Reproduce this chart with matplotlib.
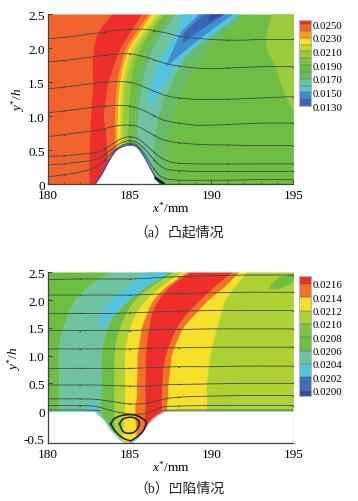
import numpy as np
import matplotlib
matplotlib.use('Agg')
import matplotlib.pyplot as plt

plt.rcParams['font.family'] = ['Liberation Serif']
plt.rcParams['mathtext.fontset'] = 'custom'
plt.rcParams['mathtext.rm'] = 'Liberation Serif'
plt.rcParams['mathtext.it'] = 'Liberation Serif:italic'

RED = '#ee2e2b'
ORANGE_RED = '#f1632d'
ORANGE = '#f79a28'
YELLOW = '#f6e02a'
YLIME = '#c5d92d'
LIME = '#9acb3c'
LGREEN = '#7dc242'
GREEN = '#6ebe44'
MGREEN = '#68bc68'
TEAL = '#70c3a0'
LBLUE = '#55c5df'
BLUE = '#3f8fd0'
BLUE2 = '#3a66b5'
DBLUE = '#2f4da0'

# panel a: band boundaries x(y)
ya = [0, 0.25, 0.5, 0.75, 1, 1.25, 1.5, 1.75, 2, 2.25, 2.5]
a1 = [182.54, 182.54, 182.54, 182.58, 182.63, 182.69, 182.75, 182.73, 182.81, 183.11, 183.91]
a2 = [182.99, 183.6, 183.64, 183.56, 183.44, 183.54, 183.72, 184.05, 184.46, 185.09, 185.74]
a3 = [183.2, 184.01, 184.11, 184.11, 184.11, 184.15, 184.25, 184.46, 184.78, 185.43, 186.15]
a4 = [183.4, 184.11, 184.25, 184.25, 184.27, 184.31, 184.42, 184.62, 184.97, 185.64, 186.35]
a5 = [183.6, 184.21, 184.46, 184.42, 184.42, 184.46, 184.56, 184.78, 185.13, 185.84, 186.62]
a6 = [183.8, 184.31, 184.66, 184.56, 184.56, 184.62, 184.74, 184.99, 185.37, 186.05, 186.82]
a7 = [184.0, 184.52, 184.88, 184.86, 184.93, 184.97, 185.07, 185.23, 185.64, 186.29, 187.06]
a8 = [186.05, 185.64, 185.33, 185.29, 185.33, 185.43, 185.54, 185.74, 186.05, 186.76, 187.47]
a9 = [186.25, 185.84, 185.54, 185.48, 185.54, 185.64, 185.8, 186.05, 186.45, 187.06, 187.78]
a10 = [186.49, 186.45, 186.45, 186.55, 186.76, 187.06, 187.57, 188.07, 188.78, 190.12, 191.34]
a11 = [187.27, 187.27, 187.27, 187.37, 187.67, 187.98, 188.49, 189.1, 189.91, 190.93, 192.05]
a_bounds = [180, a1, a2, a3, a4, a5, a6, a7, a8, a9, a10, a11, 195]
a_colors = [ORANGE_RED, RED, ORANGE_RED, ORANGE, YELLOW, YLIME, LIME, GREEN, MGREEN, TEAL, MGREEN, GREEN]

a_lime_y = [1.1, 1.25, 1.5, 1.75, 2, 2.25, 2.5]
a_lime_x = [195, 194.6, 194.19, 193.88, 193.37, 193.37, 193.68]
a_b1_y = [1.15, 1.25, 1.5, 1.75, 2, 2.25, 2.5]
a_b1_l = [186.19, 186.15, 186.35, 186.66, 187.27, 187.88, 188.08]
a_b1_r = [186.19, 186.55, 187.16, 187.88, 188.89, 190.32, 191.64]
a_b2_y = [1.75, 2, 2.25, 2.5]
a_b2_l = [187.2, 187.67, 188.18, 189.2]
a_b2_r = [187.27, 188.49, 189.81, 191.24]
a_b3_y = [2.09, 2.25, 2.5]
a_b3_l = [188.24, 188.39, 189.51]
a_b3_r = [188.28, 189.1, 190.73]
a_b4_y = [2.41, 2.5]
a_b4_l = [189.81, 189.91]
a_b4_r = [189.81, 190.62]

bump_x = [182.89, 183.3, 183.7, 184.11, 184.52, 185, 185.44, 185.84, 186.25, 186.66, 186.92]
bump_y = [0, 0.15, 0.33, 0.48, 0.55, 0.58, 0.55, 0.43, 0.25, 0.07, 0]

xs_a = [180, 181, 182, 183, 183.5, 184, 184.5, 185, 185.5, 186, 186.5, 187, 187.5, 188, 189, 190, 191, 192, 193, 195]
lines_a = [
    [.11, .14, .18, .26, .36, .48, .57, .60, .57, .42, .22, .10, .07, .06, .06, .06, .06, .065, .07, .07],
    [.28, .30, .33, .37, .44, .53, .61, .64, .61, .50, .36, .25, .21, .20, .19, .19, .19, .19, .19, .19],
    [.41, .42, .44, .47, .52, .60, .67, .70, .67, .58, .47, .38, .33, .31, .30, .30, .30, .30, .30, .30],
    [.70, .73, .76, .79, .82, .85, .87, .87, .85, .79, .72, .66, .63, .61, .59, .58, .58, .57, .57, .57],
    [1.05, 1.08, 1.11, 1.14, 1.15, 1.16, 1.16, 1.15, 1.12, 1.07, 1.01, .95, .92, .90, .87, .87, .88, .89, .90, .90],
    [1.40, 1.43, 1.46, 1.49, 1.50, 1.51, 1.51, 1.50, 1.47, 1.42, 1.37, 1.32, 1.29, 1.27, 1.25, 1.25, 1.25, 1.26, 1.27, 1.29],
    [1.80, 1.82, 1.85, 1.88, 1.90, 1.91, 1.92, 1.92, 1.90, 1.87, 1.83, 1.79, 1.76, 1.74, 1.71, 1.70, 1.71, 1.72, 1.73, 1.73],
    [2.14, 2.16, 2.19, 2.22, 2.24, 2.26, 2.27, 2.28, 2.28, 2.28, 2.26, 2.24, 2.21, 2.18, 2.15, 2.13, 2.12, 2.12, 2.13, 2.13],
]
sep_x = [186.6, 186.85, 187.08]
sep_y = [0.09, 0.05, 0.01]

# panel b: band boundaries x(y)
yb = [-0.6, 0, 0.25, 0.5, 0.75, 1, 1.25, 1.5, 1.75, 2, 2.25, 2.5]
b1 = [180.69, 180.69, 180.69, 180.69, 180.69, 180.71, 180.75, 180.96, 181.26, 181.67, 182.48, 183.81]
b2 = [183.5, 183.3, 183.3, 183.3, 183.3, 183.3, 183.4, 183.7, 184.01, 184.72, 185.64, 187.27]
b3 = [184.11, 184.07, 184.07, 184.07, 184.07, 184.07, 184.17, 184.42, 184.78, 185.33, 186.35, 187.67]
b4 = [184.52, 184.72, 184.72, 184.72, 184.72, 184.72, 184.82, 185.03, 185.39, 186.0, 186.96, 188.18]
b5 = [185.48, 185.33, 185.43, 185.43, 185.48, 185.48, 185.6, 185.74, 186.05, 186.45, 187.27, 188.49]
b6 = [185.74, 185.94, 185.94, 185.94, 185.98, 185.98, 186.05, 186.19, 186.35, 186.76, 187.47, 188.69]
b7 = [186.96, 186.96, 186.96, 187.0, 187.06, 187.2, 187.51, 187.88, 188.49, 189.3, 190.22, 191.24]
b8 = [187.27, 187.27, 187.33, 187.37, 187.47, 187.57, 187.88, 188.28, 189.0, 189.81, 190.83, 191.64]
b9 = [189.71, 189.71, 189.71, 189.71, 189.81, 189.91, 190.12, 190.32, 190.58, 190.83, 191.44, 192.15]
b_bounds = [180, b1, b2, b3, b4, b5, b6, b7, b8, b9, 195]
B_LIME = '#aed136'
B_ORANGE = '#f37325'
b_colors = [GREEN, TEAL, GREEN, B_LIME, YELLOW, B_ORANGE, RED, B_ORANGE, YELLOW, B_LIME]

b_blob_y = [1.48, 1.75, 2, 2.25, 2.5]
b_blob_l = [183.15, 183.26, 183.81, 184.93, 186.05]
b_blob_r = [183.2, 184.11, 184.93, 186.05, 187.37]
b_tip_y = [0, 0.1, 0.25]
b_tip_l = [182.54, 182.58, 182.69]
b_tip_r = [183.09, 182.89, 182.71]
b_green_y = [2.21, 2.3, 2.4, 2.47]
b_green_l = [193.54, 193.68, 194.09, 194.7]
b_green_r = [193.98, 194.8, 195, 195]

cav_x = [182.85, 183.4, 183.91, 184.42, 184.99, 185.54, 186.05, 186.55, 187.16]
cav_y = [0, -0.14, -0.35, -0.51, -0.58, -0.47, -0.26, -0.11, 0]

xs_b = [180, 182, 183, 184, 185, 186, 187, 188, 190, 192, 195]
lines_b = [
    [2.37, 2.38, 2.38, 2.38, 2.38, 2.39, 2.41, 2.42, 2.44, 2.45, 2.45],
    [2.09, 2.09, 2.09, 2.09, 2.09, 2.10, 2.11, 2.12, 2.13, 2.14, 2.14],
    [1.76, 1.76, 1.76, 1.76, 1.77, 1.78, 1.79, 1.80, 1.81, 1.81, 1.81],
    [1.45, 1.45, 1.45, 1.45, 1.45, 1.46, 1.47, 1.47, 1.48, 1.48, 1.48],
    [1.12, 1.12, 1.12, 1.12, 1.12, 1.13, 1.14, 1.14, 1.15, 1.15, 1.15],
    [.77, .77, .77, .77, .77, .78, .79, .80, .80, .81, .81],
    [.47, .47, .47, .46, .45, .45, .47, .48, .49, .50, .50],
    [.22, .22, .21, .17, .13, .14, .21, .25, .27, .28, .28],
    [.10, .10, .08, .0, -.05, -.04, .07, .09, .10, .10, .10],
]
near_x = [187, 188, 190, 192, 195]
near_y = [.01, .02, .02, .02, .02]
near2_x = [180, 182, 183.2]
near2_y = [.02, .02, .01]
loop1_x = [183.85, 184.1, 184.71, 185.43, 185.98, 186.0, 185.74, 185.23, 184.99, 184.52, 184.1, 183.85]
loop1_y = [-0.23, -0.13, -0.07, -0.08, -0.18, -0.26, -0.39, -0.51, -0.53, -0.47, -0.35, -0.23]
loop2_x = [184.38, 184.62, 185.13, 185.54, 185.58, 185.33, 184.99, 184.62, 184.38]
loop2_y = [-0.23, -0.14, -0.11, -0.17, -0.26, -0.37, -0.40, -0.37, -0.23]

# colour bars
cb_a_edges = [.01297, .0130, .0140, .0150, .0160, .0170, .0180, .0190, .0200, .0210, .0220, .0230, .0240, .0250, .02565]
cb_a_colors = [DBLUE, BLUE2, BLUE, LBLUE, TEAL, MGREEN, GREEN, LGREEN, LIME, YLIME, YELLOW, ORANGE, ORANGE_RED, RED]
cb_a_ticks = [.0130, .0150, .0170, .0190, .0210, .0230, .0250]
cb_b_edges = [.019915, .0200, .0202, .0204, .0206, .0208, .0210, .0212, .0214, .0216, .021715]
cb_b_colors = [DBLUE, '#3f6fbb', LBLUE, TEAL, GREEN, LGREEN, B_LIME, YELLOW, B_ORANGE, RED]
cb_b_ticks = [.0200, .0202, .0204, .0206, .0208, .0210, .0212, .0214, .0216]

W, H = 358, 502
fig = plt.figure(figsize=(W / 100, H / 100), dpi=100)


def box(l, t, r, b):
    return [l / W, 1 - b / H, (r - l) / W, (b - t) / H]


# rounds off the corners of a read polyline when drawing it
def smooth(*arrs, n=8):
    out = []
    for a in arrs:
        a = np.asarray(a, dtype=float)
        p = np.concatenate([[2 * a[0] - a[1]], a, [2 * a[-1] - a[-2]]])
        t = np.linspace(0, 1, n, endpoint=False)[:, None]
        p0, p1, p2, p3 = p[:-3], p[1:-2], p[2:-1], p[3:]
        seg = 0.5 * (2 * p1 + (p2 - p0) * t + (2 * p0 - 5 * p1 + 4 * p2 - p3) * t ** 2
                     + (3 * p1 - p0 - 3 * p2 + p3) * t ** 3)
        out.append(np.append(seg.T.ravel(), a[-1]))
    return out


def fill_x(ax, y, left, right, color):
    sy, sl, sr = smooth(y, left, right)
    ax.fill_betweenx(sy, sl, sr, color=color, lw=0.3)


def draw_bands(ax, y, bounds, colors):
    for i, c in enumerate(colors):
        left = bounds[i] if isinstance(bounds[i], list) else [bounds[i]] * len(y)
        right = bounds[i + 1] if isinstance(bounds[i + 1], list) else [bounds[i + 1]] * len(y)
        fill_x(ax, y, left, right, c)


def draw_lines(ax, xs, lines):
    for line in lines:
        sx, sy = smooth(xs, line)
        ax.plot(sx, sy, color='#3f4c45', lw=0.6, zorder=4)
        ax.plot(xs[1::3], line[1::3], ls='none', marker='>', ms=1.3, mew=0, color='#2c3430', zorder=4)


def style(ax, yticks, ylabels, ylim):
    ax.set_xlim(180, 195)
    ax.set_ylim(*ylim)
    ax.set_xticks([180, 185, 190, 195])
    ax.set_xticks(range(180, 196), minor=True)
    ax.set_yticks(yticks)
    ax.set_yticklabels(ylabels)
    ax.tick_params(axis='both', which='major', direction='in', length=3, width=0.6, labelsize=9.5, pad=2, color='#333333')
    ax.tick_params(axis='x', which='major', pad=3.5)
    ax.tick_params(axis='x', which='minor', direction='in', length=1.5, width=0.5, color='#333333')
    for s in ['top', 'right']:
        ax.spines[s].set_visible(False)
    for s in ['left', 'bottom']:
        ax.spines[s].set_linewidth(0.9)
        ax.spines[s].set_color('#444444')
        ax.spines[s].set_zorder(6)
    ax.set_xlabel(r'$x^{*}$/mm', fontsize=9.5, labelpad=-1)
    ax.set_ylabel(r'$y^{*}/h$', fontsize=9.5, labelpad=1)


def colorbar(rect, edges, colors, ticks):
    cax = fig.add_axes(rect)
    cax.barh(edges[:-1], 1, height=np.diff(edges), align='edge', color=colors, edgecolor='none')
    cax.hlines(edges[1:-1], 0, 1, color='#555555', lw=0.35)
    cax.set_xlim(0, 1)
    cax.set_ylim(edges[0], edges[-1])
    cax.set_xticks([])
    cax.yaxis.tick_right()
    cax.set_yticks(ticks)
    cax.set_yticklabels(['%.4f' % t for t in ticks])
    cax.tick_params(axis='y', length=0, labelsize=7.8, pad=1.5)
    for s in cax.spines.values():
        s.set_color('#b5b5b5')
        s.set_linewidth(0.8)


# (a)
ax1 = fig.add_axes(box(47.6, 15.3, 293.3, 185.3))
draw_bands(ax1, ya, a_bounds, a_colors)
fill_x(ax1, a_lime_y, a_lime_x, [195] * len(a_lime_y), LIME)
fill_x(ax1, a_b1_y, a_b1_l, a_b1_r, LBLUE)
fill_x(ax1, a_b2_y, a_b2_l, a_b2_r, BLUE)
fill_x(ax1, a_b3_y, a_b3_l, a_b3_r, BLUE2)
fill_x(ax1, a_b4_y, a_b4_l, a_b4_r, DBLUE)
wx, wy = smooth(bump_x, bump_y)
ax1.fill_between(wx, wy, -0.1, color='white', lw=0, zorder=3)
ax1.plot(wx, wy, color='#3b4ba3', lw=1.0, zorder=3)
draw_lines(ax1, xs_a, lines_a)
ax1.plot(sep_x, sep_y, color='#151515', lw=1.8, zorder=5)
style(ax1, [0, 0.5, 1, 1.5, 2, 2.5], ['0', '0.5', '1.0', '1.5', '2.0', '2.5'], (0, 2.5))

# (b)
ax2 = fig.add_axes(box(47.6, 273.3, 293.3, 444.3))
draw_bands(ax2, yb, b_bounds, b_colors)
fill_x(ax2, b_blob_y, b_blob_l, b_blob_r, LBLUE)
fill_x(ax2, b_tip_y, b_tip_l, b_tip_r, LBLUE)
fill_x(ax2, b_green_y, b_green_l, b_green_r, GREEN)
wx, wy = smooth(cav_x, cav_y)
wx = np.concatenate([[180], wx, [195]])
wy = np.concatenate([[0], wy, [0]])
ax2.fill_between(wx, wy, -0.6, color='white', lw=0, zorder=3)
ax2.plot(wx, wy, color='#7fd5d0', lw=0.9, zorder=3)
draw_lines(ax2, xs_b, lines_b)
ax2.plot(near_x, near_y, color='#3f4c45', lw=0.6, zorder=4)
ax2.plot(near2_x, near2_y, color='#3f4c45', lw=0.6, zorder=4)
for lx, ly in [(loop1_x, loop1_y), (loop2_x, loop2_y)]:
    sx, sy = smooth(lx, ly)
    ax2.plot(sx, sy, color='#1d1d1d', lw=1.1, zorder=5)
style(ax2, [-0.5, 0, 0.5, 1, 1.5, 2, 2.5], ['-0.5', '0', '0.5', '1.0', '1.5', '2.0', '2.5'], (-0.58, 2.5))

colorbar(box(298.7, 20.7, 310.7, 107.3), cb_a_edges, cb_a_colors, cb_a_ticks)
colorbar(box(298.7, 277.3, 310.7, 397.3), cb_b_edges, cb_b_colors, cb_b_ticks)

cap_font = ['Liberation Serif', 'Noto Sans CJK SC']
fig.text(179 / W, 1 - 233 / H, '（a）凸起情况', family=cap_font, fontsize=10, ha='center', va='center', color='#222222')
fig.text(179 / W, 1 - 489 / H, '（b）凹陷情况', family=cap_font, fontsize=10, ha='center', va='center', color='#222222')

fig.savefig('out.png', dpi=100)
